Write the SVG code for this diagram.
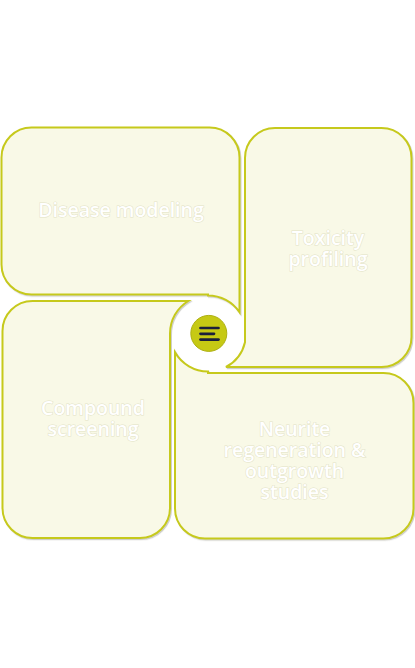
<svg xmlns="http://www.w3.org/2000/svg" width="415" height="668" viewBox="0 0 415 668">
<defs>
<filter id="sh" x="-5%" y="-5%" width="110%" height="110%">
<feDropShadow dx="1" dy="1.2" stdDeviation="0.6" flood-color="#777766" flood-opacity="0.35"/>
</filter>
<style>
.shape{fill:#f9f9e7;stroke:#c6c91c;stroke-width:2;filter:url(#sh);}
.lbl{font-family:"Open Sans","Noto Sans",sans-serif;font-size:19.5px;font-weight:600;fill:#ffffff;stroke:#e2e2c6;stroke-width:1;paint-order:stroke;text-anchor:middle;}
.ico{stroke:#1b1f3b;stroke-width:2.7;stroke-linecap:round;fill:none;}
</style>
</defs>
<rect width="415" height="668" fill="#ffffff"/>
<g id="node-disease">
<path class="shape" d="M31.5,127.5 H209.5 A30,30 0 0 1 239.5,157.5 V312.25 A38,38 0 0 0 208,295.5 V294.5 H31.5 A30,30 0 0 1 1.5,264.5 V157.5 A30,30 0 0 1 31.5,127.5 Z"/>
<text class="lbl" x="121" y="217">Disease modeling</text>
</g>
<g id="node-toxicity">
<path class="shape" d="M275,128 H381.5 A30,30 0 0 1 411.5,158 V337 A30,30 0 0 1 381.5,367 H225.94 A38,38 0 0 0 245,342.16 V158 A30,30 0 0 1 275,128 Z"/>
<text class="lbl" x="328" y="245">Toxicity</text>
<text class="lbl" x="328" y="266">profiling</text>
</g>
<g id="node-compound">
<path class="shape" d="M32.5,301 H188.31 A38,38 0 0 0 170,333.5 V508 A30,30 0 0 1 140,538 H32.5 A30,30 0 0 1 2.5,508 V331 A30,30 0 0 1 32.5,301 Z"/>
<text class="lbl" x="93" y="415">Compound</text>
<text class="lbl" x="93" y="436">screening</text>
</g>
<g id="node-neurite">
<path class="shape" d="M175,352.34 A38,38 0 0 0 208,371.5 V373 H383.5 A30,30 0 0 1 413.5,403 V508.5 A30,30 0 0 1 383.5,538.5 H205 A30,30 0 0 1 175,508.5 Z"/>
<text class="lbl" x="294.5" y="436">Neurite</text>
<text class="lbl" x="294.5" y="457">regeneration &amp;</text>
<text class="lbl" x="294.5" y="478">outgrowth</text>
<text class="lbl" x="294.5" y="499">studies</text>
</g>
<g id="node-center">
<circle cx="208.8" cy="333.4" r="18" fill="#c6c914" stroke="#aeb012" stroke-width="1"/>
<line class="ico" x1="200.5" y1="328" x2="218.5" y2="328"/>
<line class="ico" x1="200.5" y1="333.8" x2="214" y2="333.8"/>
<line class="ico" x1="200.5" y1="339.6" x2="218.5" y2="339.6"/>
</g>
<g id="connectors"></g>
</svg>
